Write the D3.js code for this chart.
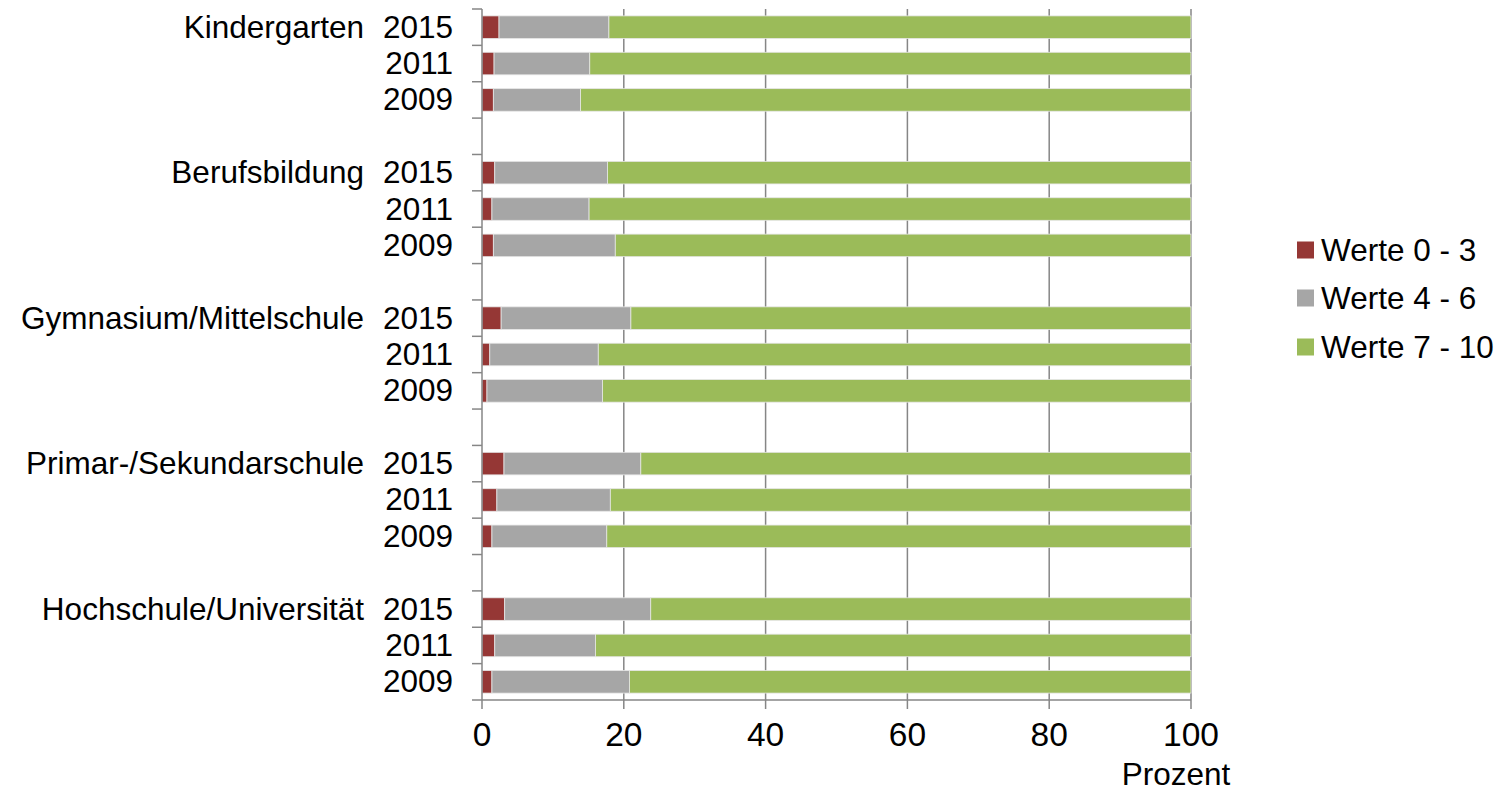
<!DOCTYPE html>
<html>
<head>
<meta charset="utf-8">
<script src="https://cdn.jsdelivr.net/npm/d3@7"></script>
<style>
  html, body { margin: 0; padding: 0; background: #fff; }
  text { font-family: "Liberation Sans", Arial, sans-serif; fill: #000; }
</style>
</head>
<body>
<svg id="chart" width="1510" height="792"></svg>
<script>
// ---- Data ----
const categories = ["Kindergarten", "Berufsbildung", "Gymnasium/Mittelschule", "Primar-/Sekundarschule", "Hochschule/Universität"];
const years = ["2015", "2011", "2009"];
const seriesNames = ["Werte 0 - 3", "Werte 4 - 6", "Werte 7 - 10"];
// values per category, per year (2015, 2011, 2009)
const werte0bis3 = [
  [2.4, 1.7, 1.6],
  [1.8, 1.4, 1.6],
  [2.7, 1.1, 0.7],
  [3.1, 2.1, 1.4],
  [3.2, 1.8, 1.4]
];
const werte4bis6 = [
  [15.5, 13.5, 12.3],
  [15.9, 13.7, 17.2],
  [18.3, 15.3, 16.3],
  [19.3, 16.0, 16.2],
  [20.6, 14.2, 19.4]
];
const werte7bis10 = [
  [82.1, 84.8, 86.1],
  [82.3, 84.9, 81.2],
  [79.0, 83.6, 83.0],
  [77.6, 81.9, 82.4],
  [76.2, 84.0, 79.2]
];
const xTicks = [0, 20, 40, 60, 80, 100];
const xLabel = "Prozent";
const colors = ["#953735", "#a6a6a6", "#9bbb59"];

(function () {
// ---- Build rows ----
const rows = [];
const rowKeys = [];
categories.forEach((c, ci) => {
  years.forEach((yr, yi) => {
    const key = c + "|" + yr;
    rowKeys.push(key);
    rows.push({ key, cat: c, year: yr, first: yi === 0,
      vals: [werte0bis3[ci][yi], werte4bis6[ci][yi], werte7bis10[ci][yi]] });
  });
  if (ci < categories.length - 1) rowKeys.push("gap" + ci);
});

const svg = d3.select("#chart");
const axisColor = "#868686";
const mLeft = 482, mRight = 1191, mTop = 9, mBottom = 700;

const x = d3.scaleLinear().domain([0, 100]).range([mLeft, mRight]);
const pad = 0.38;
const y = d3.scaleBand().domain(rowKeys).range([mTop, mBottom]).paddingInner(pad).paddingOuter(pad / 2);

const fontSize = 31.5;
const tickFontSize = 33.5;

// gridlines
svg.append("g").selectAll("line").data(xTicks.filter(t => t > 0)).join("line")
  .attr("x1", d => x(d)).attr("x2", d => x(d))
  .attr("y1", mTop).attr("y2", mBottom)
  .attr("stroke", axisColor).attr("stroke-width", 1.5);

// bars
const stackData = rows.map(r => {
  let acc = 0;
  return r.vals.map((v, i) => { const s = { key: r.key, x0: acc, x1: acc + v, i }; acc += v; return s; });
}).flat();

svg.append("g").selectAll("rect").data(stackData).join("rect")
  .attr("x", d => x(d.x0))
  .attr("width", d => x(d.x1) - x(d.x0))
  .attr("y", d => y(d.key))
  .attr("height", y.bandwidth())
  .attr("fill", d => colors[d.i])
  .attr("stroke", "#e6e6e6").attr("stroke-width", 0.8);

// y axis line and ticks
svg.append("line").attr("x1", mLeft).attr("x2", mLeft).attr("y1", mTop).attr("y2", mBottom)
  .attr("stroke", axisColor).attr("stroke-width", 1.5);
const step = y.step();
const boundaries = d3.range(rowKeys.length + 1).map(i => mTop + i * step);
svg.append("g").selectAll("line").data(boundaries).join("line")
  .attr("x1", mLeft - 10).attr("x2", mLeft)
  .attr("y1", d => d).attr("y2", d => d)
  .attr("stroke", axisColor).attr("stroke-width", 1.5);

// x axis line and ticks
svg.append("line").attr("x1", mLeft).attr("x2", mRight).attr("y1", mBottom).attr("y2", mBottom)
  .attr("stroke", axisColor).attr("stroke-width", 1.5);
svg.append("g").selectAll("line").data(xTicks).join("line")
  .attr("x1", d => x(d)).attr("x2", d => x(d))
  .attr("y1", mBottom).attr("y2", mBottom + 9)
  .attr("stroke", axisColor).attr("stroke-width", 1.5);

function label(g, tx, ty, str, anchor, fs) {
  return g.append("text")
    .attr("x", tx).attr("y", ty)
    .attr("text-anchor", anchor)
    .attr("font-size", fs)
    .text(str);
}

// x tick labels
const gx = svg.append("g");
xTicks.forEach(t => label(gx, x(t), 745.5, String(t), "middle", tickFontSize));
label(gx, 1176, 785, xLabel, "middle", fontSize);

// y labels
const gy = svg.append("g");
rows.forEach(r => {
  const cy = y(r.key) + y.bandwidth() / 2 + 10.5;
  label(gy, 453, cy, r.year, "end", fontSize);
  if (r.first) label(gy, 364, cy, r.cat, "end", fontSize);
});

// legend
const gl = svg.append("g");
const legendY = [250, 298, 347];
seriesNames.forEach((s, i) => {
  gl.append("rect").attr("x", 1297).attr("y", legendY[i] - 8.5).attr("width", 17).attr("height", 17)
    .attr("fill", colors[i]);
  label(gl, 1321, legendY[i] + 11, s, "start", fontSize);
});
})();
</script>
</body>
</html>
